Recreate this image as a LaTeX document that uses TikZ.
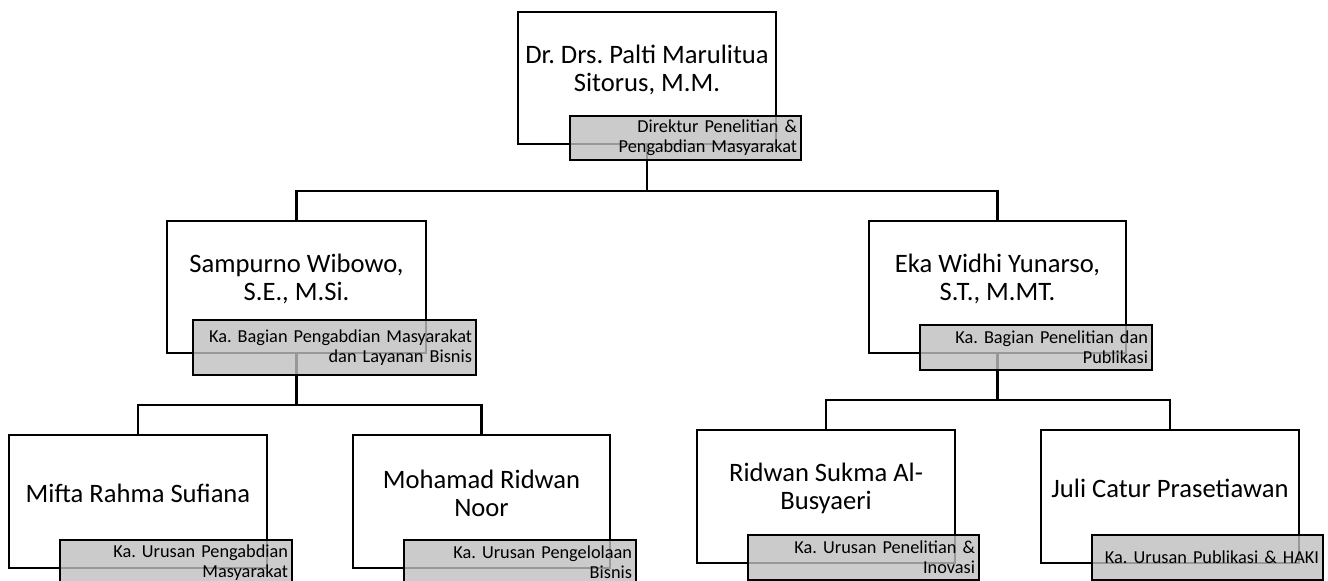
\documentclass[tikz,border=0pt]{standalone}
\usepackage{fontspec}
\setmainfont{Carlito}
\frenchspacing
\tikzstyle{namebox} = [draw,line width=2.2pt,fill=white,inner sep=0pt,minimum width=258pt,minimum height=133pt]
\tikzstyle{nametext} = [align=center,inner sep=0pt,font=\fontsize{26.6}{27.7}\selectfont]
\tikzstyle{rolebox} = [draw,line width=2.2pt,fill=black!25,fill opacity=0.8,text opacity=1,align=right,inner xsep=4pt,inner ysep=0pt,minimum height=45pt,anchor=north west,font=\fontsize{18.3}{20}\selectfont]
\tikzstyle{link} = [line width=2.2pt]

\begin{document}
\begin{tikzpicture}[x=1pt,y=-1pt]
  \useasboundingbox (0,0) rectangle (1328,581);
  \node[namebox,minimum height=132pt] (dir) at (647,78) {};
  \node[nametext] (dirname) at ([yshift=8pt]dir.center) {Dr. Drs. Palti Marulitua\\Sitorus, M.M.};
  \node[namebox,minimum width=259pt,minimum height=132pt] (sam) at (296.5,287) {};
  \node[nametext] (samname) at ([yshift=8pt]sam.center) {Sampurno Wibowo,\\S.E., M.Si.};
  \node[namebox,minimum width=257pt,minimum height=132pt] (eka) at (997.5,287) {};
  \node[nametext] (ekaname) at ([yshift=8pt]eka.center) {Eka Widhi Yunarso,\\S.T., M.MT.};
  \node[namebox] (mif) at (138,501.5) {};
  \node[nametext] (mifname) at ([yshift=8pt]mif.center) {Mifta Rahma Sufiana};
  \node[namebox,minimum width=257pt] (moh) at (481.5,501.5) {};
  \node[nametext] (mohname) at ([yshift=8pt]moh.center) {Mohamad Ridwan\\Noor};
  \node[namebox] (rid) at (826,496.5) {};
  \node[nametext] (ridname) at ([yshift=8pt]rid.center) {Ridwan Sukma Al-\\Busyaeri};
  \node[namebox] (jul) at (1170,496.5) {};
  \node[nametext] (julname) at ([yshift=8pt]jul.center) {Juli Catur Prasetiawan};

  \draw[link] (dir.south) -- ++(0,46) -| (sam.north);
  \draw[link] (dir.south) -- ++(0,46) -| (eka.north);
  \draw[link] (sam.south) -- ++(0,51) -| (mif.north);
  \draw[link] (sam.south) -- ++(0,51) -| (moh.north);
  \draw[link] (eka.south) -- ++(0,46) -| (rid.north);
  \draw[link] (eka.south) -- ++(0,46) -| (jul.north);

  \node[rolebox,text width=223pt,minimum height=44pt] (dirrole) at ([xshift=52pt,yshift=30pt]dir.south west) {Direktur Penelitian \&\\Pengabdian Masyarakat};
  \node[rolebox,text width=275pt,minimum height=55pt] (samrole) at ([xshift=26pt,yshift=35pt]sam.south west) {Ka. Bagian Pengabdian Masyarakat\\dan Layanan Bisnis};
  \node[rolebox,text width=224pt] (ekarole) at ([xshift=51pt,yshift=30pt]eka.south west) {Ka. Bagian Penelitian dan\\Publikasi};
  \node[rolebox,text width=224pt] (mifrole) at ([xshift=51pt,yshift=30pt]mif.south west) {Ka. Urusan Pengabdian\\Masyarakat};
  \node[rolebox,text width=224pt] (mohrole) at ([xshift=51pt,yshift=30pt]moh.south west) {Ka. Urusan Pengelolaan\\Bisnis};
  \node[rolebox,text width=223pt] (ridrole) at ([xshift=51pt,yshift=30pt]rid.south west) {Ka. Urusan Penelitian \&\\Inovasi};
  \node[rolebox,text width=223pt] (julrole) at ([xshift=51pt,yshift=30pt]jul.south west) {Ka. Urusan Publikasi \& HAKI};
\end{tikzpicture}
\end{document}
